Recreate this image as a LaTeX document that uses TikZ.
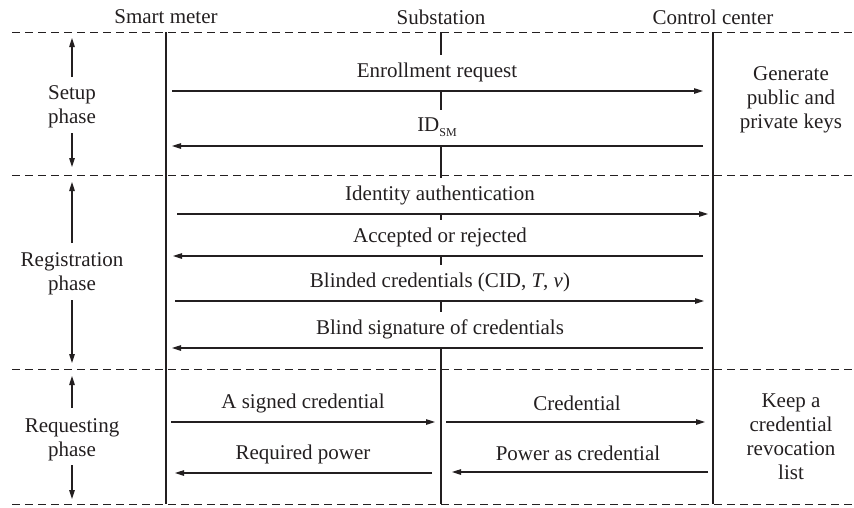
\documentclass[tikz,border=0pt]{standalone}
\usepackage{fontspec}
\setmainfont{Liberation Serif}
\usetikzlibrary{arrows.meta,calc}
\definecolor{ink}{RGB}{35,31,32}
\begin{document}
\begin{tikzpicture}[x=1pt,y=-1pt,
  every node/.style={text=ink},
  font=\fontsize{21}{24}\selectfont,
  life/.style={line width=1.3pt,draw=ink},
  sepline/.style={line width=1pt,dash pattern=on 8pt off 5pt,draw=ink},
  msg/.style={line width=1.1pt,draw=ink,-{Triangle[length=9pt,width=5.5pt]}},
  lbl/.style={fill=white,minimum height=35pt,inner sep=2pt,anchor=south},
  lblp/.style={minimum height=35pt,inner sep=2pt,anchor=south},
  note/.style={align=center,inner sep=2pt},
  phase/.style={align=center,inner sep=2pt}]
\useasboundingbox (0,0) rectangle (854,507);

% headers
\node (hSM) at (166,17) {Smart meter};
\node (hSS) at (441,17) {Substation};
\node (hCC) at (713,17) {Control center};

% lifelines
\coordinate (smT) at (166,32); \coordinate (smB) at (166,504);
\coordinate (ssT) at (441,32); \coordinate (ssB) at (441,504);
\coordinate (ccT) at (713,32); \coordinate (ccB) at (713,504);
\draw[life] (smT) -- (smB);
\draw[life] (ssT) -- (ssB);
\draw[life] (ccT) -- (ccB);

% message labels (white boxes interrupt the substation line)
\node[lbl] (lEnr) at (437,90) {Enrollment request};
\node[lbl] (lId) at (437,145) {ID\raisebox{-5pt}{\fontsize{12}{12}\selectfont SM}};
\node[lbl] (lIdA) at (440,213) {Identity authentication};
\node[lbl] (lAcc) at (440,255) {Accepted or rejected};
\node[lbl] (lBld) at (440,300) {Blinded credentials (CID, \textit{T}, \textit{v})};
\node[lbl] (lSig) at (440,347) {Blind signature of credentials};
\node[lblp] (lSgn) at (303,421) {A signed credential};
\node[lblp] (lCrd) at (577,421) {Credential};
\node[lblp] (lReq) at (303,472) {Required power};
\node[lblp] (lPow) at (578,471) {Power as credential};

% dashed separators
\coordinate (d1L) at (12,32);  \coordinate (d1R) at (854,32);
\coordinate (d2L) at (12,175); \coordinate (d2R) at (854,175);
\coordinate (d3L) at (12,369); \coordinate (d3R) at (854,369);
\coordinate (d4L) at (12,504); \coordinate (d4R) at (854,504);
\draw[sepline] (d1L) -- (d1R);
\draw[sepline] (d2L) -- (d2R);
\draw[sepline] (d3L) -- (d3R);
\draw[sepline] (d4L) -- (d4R);

% messages
\coordinate (m1a) at (172,91);  \coordinate (m1b) at (703,91);
\coordinate (m2a) at (703,146); \coordinate (m2b) at (172,146);
\coordinate (m3a) at (177,214); \coordinate (m3b) at (708,214);
\coordinate (m4a) at (703,256); \coordinate (m4b) at (173,256);
\coordinate (m5a) at (175,301); \coordinate (m5b) at (704,301);
\coordinate (m6a) at (703,348); \coordinate (m6b) at (172,348);
\coordinate (m7a) at (171,422); \coordinate (m7b) at (435,422);
\coordinate (m8a) at (446,422); \coordinate (m8b) at (705,422);
\coordinate (m9a) at (432,473); \coordinate (m9b) at (175,473);
\coordinate (m10a) at (708,472); \coordinate (m10b) at (452,472);
\draw[msg] (m1a) -- (m1b);
\draw[msg] (m2a) -- (m2b);
\draw[msg] (m3a) -- (m3b);
\draw[msg] (m4a) -- (m4b);
\draw[msg] (m5a) -- (m5b);
\draw[msg] (m6a) -- (m6b);
\draw[msg] (m7a) -- (m7b);
\draw[msg] (m8a) -- (m8b);
\draw[msg] (m9a) -- (m9b);
\draw[msg] (m10a) -- (m10b);

% phase labels with span arrows
\node[phase] (pSet) at (72,107) {Setup\\phase};
\coordinate (pSetU1) at (72,77);  \coordinate (pSetU2) at (72,38);
\coordinate (pSetD1) at (72,133); \coordinate (pSetD2) at (72,167);
\draw[msg] (pSetU1) -- (pSetU2);
\draw[msg] (pSetD1) -- (pSetD2);

\node[phase] (pReg) at (72,274) {Registration\\phase};
\coordinate (pRegU1) at (72,243); \coordinate (pRegU2) at (72,182);
\coordinate (pRegD1) at (72,300); \coordinate (pRegD2) at (72,363);
\draw[msg] (pRegU1) -- (pRegU2);
\draw[msg] (pRegD1) -- (pRegD2);

\node[phase] (pRqs) at (72,440) {Requesting\\phase};
\coordinate (pRqsU1) at (72,408); \coordinate (pRqsU2) at (72,376);
\coordinate (pRqsD1) at (72,465); \coordinate (pRqsD2) at (72,499);
\draw[msg] (pRqsU1) -- (pRqsU2);
\draw[msg] (pRqsD1) -- (pRqsD2);

% control center notes
\node[note] (nGen) at (791,100) {Generate\\public and\\private keys};
\node[note] (nKeep) at (791,437) {Keep a\\credential\\revocation\\list};
\end{tikzpicture}
\end{document}
